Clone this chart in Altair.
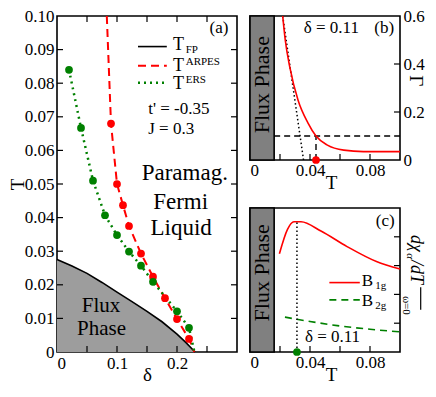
import altair as alt
import pandas as pd

FONT = "Liberation Serif, Times New Roman, DejaVu Serif, serif"
RED = "#ff0000"
GREEN = "#008000"

# ---------------- panel (a) data ----------------
fp_delta = [0.0, 0.025, 0.05, 0.075, 0.1, 0.125, 0.15, 0.175, 0.2, 0.215, 0.23]
fp_T = [0.0275, 0.0256, 0.0234, 0.0207, 0.0178, 0.0150, 0.0121, 0.0090, 0.0053, 0.0028, 0.0]

arpes_delta = [0.09, 0.10, 0.11, 0.12, 0.14, 0.16, 0.18, 0.20, 0.22]
arpes_T = [0.068, 0.050, 0.0437, 0.0375, 0.0293, 0.0224, 0.0160, 0.0098, 0.0039]
arpes_line_delta = [0.083] + arpes_delta + [0.229]
arpes_line_T = [0.10] + arpes_T + [0.0]

ers_delta = [0.02, 0.04, 0.06, 0.08, 0.10, 0.12, 0.14, 0.16, 0.20, 0.22]
ers_T = [0.084, 0.0667, 0.051, 0.0407, 0.0348, 0.0299, 0.0257, 0.0209, 0.0121, 0.0072]
ers_line_delta = ers_delta + [0.229]
ers_line_T = ers_T + [0.0]

a_xticks_labeled = [0, 0.1, 0.2]
a_xticks_minor = [0.05, 0.1, 0.15, 0.2, 0.25]
a_yticks = [0, 0.01, 0.02, 0.03, 0.04, 0.05, 0.06, 0.07, 0.08, 0.09, 0.1]
a_yticks_inner = [0.01, 0.02, 0.03, 0.04, 0.05, 0.06, 0.07, 0.08, 0.09]

# ---------------- panel (b) data ----------------
gamma_T = [0.0218, 0.0235, 0.0266, 0.032, 0.0386, 0.044, 0.0516, 0.0625, 0.0756, 0.1]
gamma_val = [0.6, 0.5, 0.385, 0.25, 0.155, 0.1, 0.062, 0.041, 0.035, 0.035]
fit_T = [0.0218, 0.0357]
fit_val = [0.6, 0.0]
flux_edge_T = 0.0161
t_arpes = 0.044
gamma_cut = 0.1
b_xticks_labeled = [0, 0.04, 0.08]
b_xticks_inner = [0.02, 0.04, 0.06, 0.08]
b_yticks = [0, 0.2, 0.4, 0.6]
b_yticks_inner = [0.2, 0.4]

# ---------------- panel (c) data ----------------
b1g_T = [0.0196, 0.025, 0.0293, 0.034, 0.0473, 0.0647, 0.0843, 0.1]
b1g_val = [3.41, 4.26, 4.52, 4.52, 4.2, 3.66, 3.14, 2.88]
b2g_T = [0.0233, 0.04, 0.0582, 0.08, 0.1]
b2g_val = [1.21, 1.06, 0.915, 0.79, 0.70]
t_ers = 0.0313
c_yticks_inner = [1, 2, 3, 4]

WA, HA = 180, 336
WB, HB = 150, 144
PAD_L, PAD_T = 49, 8
SVG_W, SVG_H = 420, 375


def axis(**kw):
    base = dict(grid=False, ticks=False, tickSize=0, domain=False,
                labelFont=FONT, labelFontSize=17, labelColor="black",
                titleFont=FONT, titleFontSize=19, titleColor="black",
                titleFontWeight="normal", labelPadding=3)
    base.update(kw)
    return alt.Axis(**base)


# ---------- panel (a) ----------
xa_scale = alt.Scale(domain=[0, 0.3], nice=False, zero=False)
ya_scale = alt.Scale(domain=[0, 0.1], nice=False, zero=False)


def XA():
    return alt.X("x:Q", scale=xa_scale,
                 axis=axis(values=a_xticks_labeled,
                           labelExpr="datum.value == 0 ? '0' : format(datum.value, '.1f')",
                           title="δ", titlePadding=-6, titleFontSize=19))


def YA():
    return alt.Y("y:Q", scale=ya_scale,
                 axis=axis(values=a_yticks,
                           labelExpr="datum.value == 0 ? '0' : format(datum.value, '.2f')",
                           title="T", titlePadding=-3))


def text_layer(X, Y, xs, ys, texts, size, align="center", angle=0, style="normal", color="black"):
    d = pd.DataFrame({"x": xs, "y": ys, "t": texts})
    return alt.Chart(d).mark_text(font=FONT, fontSize=size, align=align, baseline="middle",
                                  angle=angle, fontStyle=style, color=color).encode(
        x=X(), y=Y(), text="t:N")


fp_df = pd.DataFrame({"x": fp_delta, "y": fp_T, "y0": [0.0] * len(fp_delta)})
a_area = alt.Chart(fp_df).mark_area(color="#9d9d9d").encode(x=XA(), y=YA(), y2=alt.Y2("y0"))
a_fp = alt.Chart(fp_df).mark_line(color="black", strokeWidth=1.6).encode(x=XA(), y=YA())

arpes_line = alt.Chart(pd.DataFrame({"x": arpes_line_delta, "y": arpes_line_T})).mark_line(
    color=RED, strokeDash=[8, 5], strokeWidth=2).encode(x=XA(), y=YA())
arpes_pts = alt.Chart(pd.DataFrame({"x": arpes_delta, "y": arpes_T})).mark_circle(
    color=RED, size=60, opacity=1).encode(x=XA(), y=YA())
ers_line = alt.Chart(pd.DataFrame({"x": ers_line_delta, "y": ers_line_T})).mark_line(
    color=GREEN, strokeDash=[2, 4], strokeWidth=2.5).encode(x=XA(), y=YA())
ers_pts = alt.Chart(pd.DataFrame({"x": ers_delta, "y": ers_T})).mark_circle(
    color=GREEN, size=60, opacity=1).encode(x=XA(), y=YA())

# ticks (inward)
a_ticks = [
    alt.Chart(pd.DataFrame({"y": a_yticks_inner})).mark_rule(color="black", strokeWidth=1.2).encode(
        y=YA(), x=alt.value(0), x2=alt.value(6)),
    alt.Chart(pd.DataFrame({"y": a_yticks_inner})).mark_rule(color="black", strokeWidth=1.2).encode(
        y=YA(), x=alt.value(WA - 6), x2=alt.value(WA)),
    alt.Chart(pd.DataFrame({"x": a_xticks_minor})).mark_rule(color="black", strokeWidth=1.2).encode(
        x=XA(), y=alt.value(HA - 6), y2=alt.value(HA)),
    alt.Chart(pd.DataFrame({"x": a_xticks_minor})).mark_rule(color="black", strokeWidth=1.2).encode(
        x=XA(), y=alt.value(0), y2=alt.value(6)),
]

# legend
leg_x1, leg_x2 = 0.135, 0.183
leg_fp = alt.Chart(pd.DataFrame({"x": [leg_x1], "x2": [leg_x2], "y": [0.0909]})).mark_rule(
    color="black", strokeWidth=1.6).encode(x=XA(), x2=alt.X2("x2"), y=YA())
leg_arpes = alt.Chart(pd.DataFrame({"x": [leg_x1], "x2": [leg_x2], "y": [0.0852]})).mark_rule(
    color=RED, strokeWidth=2, strokeDash=[8, 5]).encode(x=XA(), x2=alt.X2("x2"), y=YA())
leg_ers = alt.Chart(pd.DataFrame({"x": [leg_x1], "x2": [leg_x2], "y": [0.0801]})).mark_rule(
    color=GREEN, strokeWidth=2.5, strokeDash=[2, 4]).encode(x=XA(), x2=alt.X2("x2"), y=YA())
leg_T = text_layer(XA, YA, [0.1933] * 3, [0.0915, 0.0852, 0.0798], ["T", "T", "T"], 18, align="left")
leg_sub = text_layer(XA, YA, [0.2145, 0.2145, 0.2145], [0.0900, 0.0863, 0.0810],
                     ["FP", "ARPES", "ERS"], 11, align="left")

a_params = text_layer(XA, YA, [0.152, 0.152], [0.0724, 0.0665], ["t' = -0.35", "J = 0.3"], 17, align="left")
a_label = text_layer(XA, YA, [0.27], [0.0963], ["(a)"], 17)
a_pfl = text_layer(XA, YA, [0.213, 0.206, 0.207], [0.0534, 0.0446, 0.0369],
                   ["Paramag.", "Fermi", "Liquid"], 23)
a_flux = text_layer(XA, YA, [0.0735, 0.0742], [0.0137, 0.0068], ["Flux", "Phase"], 21)

panel_a = alt.layer(a_area, a_fp, arpes_line, ers_line, arpes_pts, ers_pts, *a_ticks,
                    leg_fp, leg_arpes, leg_ers, leg_T, leg_sub, a_params, a_label, a_pfl, a_flux
                    ).properties(width=WA, height=HA)

# ---------- panel (b) ----------
xb_scale = alt.Scale(domain=[0, 0.1], nice=False, zero=False)
yb_scale = alt.Scale(domain=[0, 0.6], nice=False, zero=False)
yc_scale = alt.Scale(domain=[0, 5], nice=False, zero=False)


def XB():
    return alt.X("x:Q", scale=xb_scale,
                 axis=axis(values=b_xticks_labeled, labelPadding=2,
                           labelExpr="datum.value == 0 ? '0' : format(datum.value, '.2f')",
                           title="T", titlePadding=-5, titleX=81))


def YB():
    return alt.Y("y:Q", scale=yb_scale,
                 axis=axis(values=b_yticks, orient="right", title=None,
                           labelExpr="datum.value == 0 ? '0' : format(datum.value, '.1f')"))


def YC():
    return alt.Y("y:Q", scale=yc_scale, axis=None)


def gray_rect(X, Y, ymax):
    d = pd.DataFrame({"x": [0.0], "x2": [flux_edge_T], "y": [0.0], "y2": [ymax]})
    return alt.Chart(d).mark_rect(fill="#808080", stroke="black", strokeWidth=1.6).encode(
        x=X(), x2=alt.X2("x2"), y=Y(), y2=alt.Y2("y2"))


def bottom_ticks(X, H):
    return alt.Chart(pd.DataFrame({"x": b_xticks_inner})).mark_rule(color="black", strokeWidth=1.2).encode(
        x=X(), y=alt.value(H - 6), y2=alt.value(H))


b_gray = gray_rect(XB, YB, 0.6)
b_curve = alt.Chart(pd.DataFrame({"x": gamma_T, "y": gamma_val})).mark_line(
    color=RED, strokeWidth=1.6, interpolate="monotone").encode(x=XB(), y=YB())
b_fit = alt.Chart(pd.DataFrame({"x": fit_T, "y": fit_val})).mark_line(
    color="black", strokeWidth=1.5, strokeDash=[1.5, 2.5]).encode(x=XB(), y=YB())
b_hdash = alt.Chart(pd.DataFrame({"x": [flux_edge_T], "x2": [0.1], "y": [gamma_cut]})).mark_rule(
    color="black", strokeWidth=1.4, strokeDash=[6, 4]).encode(x=XB(), x2=alt.X2("x2"), y=YB())
b_vdash = alt.Chart(pd.DataFrame({"x": [t_arpes], "y": [0.0], "y2": [gamma_cut]})).mark_rule(
    color="black", strokeWidth=1.4, strokeDash=[6, 4]).encode(x=XB(), y=YB(), y2=alt.Y2("y2"))
b_dot = alt.Chart(pd.DataFrame({"x": [t_arpes], "y": [0.0]})).mark_circle(
    color=RED, size=60, opacity=1).encode(x=XB(), y=YB())
b_ticks = [
    bottom_ticks(XB, HB),
    alt.Chart(pd.DataFrame({"y": b_yticks_inner})).mark_rule(color="black", strokeWidth=1.2).encode(
        y=YB(), x=alt.value(WB - 6), x2=alt.value(WB)),
]
b_flux = text_layer(XB, YB, [0.0083], [0.314], ["Flux Phase"], 22, angle=270)
b_delta = text_layer(XB, YB, [0.0542], [0.549], ["δ = 0.11"], 17)
b_label = text_layer(XB, YB, [0.0895], [0.549], ["(b)"], 17)
b_gamma_title = text_layer(XB, YB, [0.1105], [0.33], ["Γ"], 19, angle=90)

panel_b = alt.layer(b_gray, b_fit, b_hdash, b_vdash, b_curve, b_dot, *b_ticks,
                    b_flux, b_delta, b_label, b_gamma_title).properties(width=WB, height=HB)

# ---------- panel (c) ----------
XC = lambda: XB()
c_gray = gray_rect(XC, YC, 5)
c_b1g = alt.Chart(pd.DataFrame({"x": b1g_T, "y": b1g_val})).mark_line(
    color=RED, strokeWidth=1.6, interpolate="monotone").encode(x=XC(), y=YC())
c_b2g = alt.Chart(pd.DataFrame({"x": b2g_T, "y": b2g_val})).mark_line(
    color=GREEN, strokeWidth=1.6, strokeDash=[7, 5], interpolate="monotone").encode(x=XC(), y=YC())
c_vdot = alt.Chart(pd.DataFrame({"x": [t_ers], "y": [0.0], "y2": [4.52]})).mark_rule(
    color="black", strokeWidth=1.5, strokeDash=[1.5, 2.5]).encode(x=XC(), y=YC(), y2=alt.Y2("y2"))
c_dot = alt.Chart(pd.DataFrame({"x": [t_ers], "y": [0.0]})).mark_circle(
    color=GREEN, size=60, opacity=1).encode(x=XC(), y=YC())
c_ticks = [
    bottom_ticks(XC, HB),
    alt.Chart(pd.DataFrame({"y": c_yticks_inner})).mark_rule(color="black", strokeWidth=1.2).encode(
        y=YC(), x=alt.value(WB - 6), x2=alt.value(WB)),
]
c_leg1 = alt.Chart(pd.DataFrame({"x": [0.0529], "x2": [0.0732], "y": [2.41]})).mark_rule(
    color=RED, strokeWidth=1.6).encode(x=XC(), x2=alt.X2("x2"), y=YC())
c_leg2 = alt.Chart(pd.DataFrame({"x": [0.0529], "x2": [0.0732], "y": [1.81]})).mark_rule(
    color=GREEN, strokeWidth=1.6, strokeDash=[7, 5]).encode(x=XC(), x2=alt.X2("x2"), y=YC())
c_legB = text_layer(XC, YC, [0.0745, 0.0745], [2.46, 1.76], ["B", "B"], 17, align="left")
c_legsub = text_layer(XC, YC, [0.0835, 0.0835], [2.28, 1.58], ["1g", "2g"], 11, align="left")
c_flux = text_layer(XC, YC, [0.0083], [2.75], ["Flux Phase"], 22, angle=270)
c_delta = text_layer(XC, YC, [0.055], [0.52], ["δ = 0.11"], 17)
c_label = text_layer(XC, YC, [0.0902], [4.54], ["(c)"], 17)
# right-hand axis title pieces
c_t1 = text_layer(XC, YC, [0.1105], [3.77], ["dχ"], 18, angle=90, style="italic")
c_t2 = text_layer(XC, YC, [0.1065], [3.33], ["α"], 11, angle=90, style="italic")
c_t3 = text_layer(XC, YC, [0.1105], [2.78], ["/dT"], 18, angle=90, style="italic")
c_t4 = text_layer(XC, YC, [0.1040], [1.62], ["ω=0"], 11, angle=90)
c_bar = alt.Chart(pd.DataFrame({"x": [0.1138], "y": [1.47], "y2": [2.25]})).mark_rule(
    color="black", strokeWidth=1.2).encode(x=XC(), y=YC(), y2=alt.Y2("y2"))

panel_c = alt.layer(c_gray, c_b2g, c_b1g, c_vdot, c_dot, *c_ticks, c_leg1, c_leg2, c_legB, c_legsub,
                    c_flux, c_delta, c_label, c_t1, c_t2, c_t3, c_t4, c_bar
                    ).properties(width=WB, height=HB)

right = alt.vconcat(panel_b, panel_c, spacing=48, bounds="flush")
chart = alt.hconcat(panel_a, right, spacing=13, bounds="flush").properties(
    autosize=alt.AutoSizeParams(type="none"),
    padding={"left": PAD_L, "top": PAD_T, "right": SVG_W - PAD_L, "bottom": SVG_H - PAD_T},
    background="white",
).configure_view(stroke="black", strokeWidth=1.6)

chart.save("out.html", embed_options={"renderer": "svg", "actions": False})
